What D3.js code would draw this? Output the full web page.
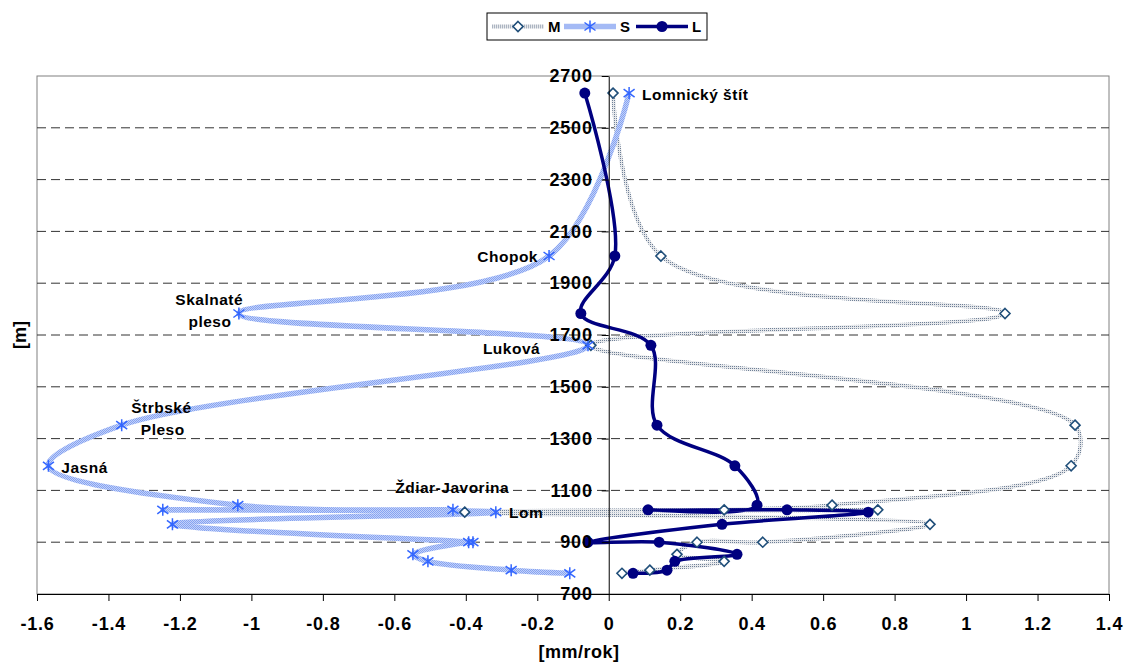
<!DOCTYPE html>
<html>
<head>
<meta charset="utf-8">
<script src="https://cdn.jsdelivr.net/npm/d3@7"></script>
<style>
  body { margin: 0; background: #fff; }
  text { font-family: "Liberation Sans", Arial, sans-serif; font-weight: bold; }
</style>
</head>
<body>
<div id="d3-container"></div>
<script>
/* CONSTANTS AND GLOBALS */
const width = 1125,
  height = 662,
  margin = { top: 76, bottom: 68, left: 37, right: 16 };

// elevation of each station [m] - shared by all three series
const elevations = [2634, 2005, 1783, 1660, 1352, 1195, 1043, 1025, 1025, 1016, 969, 900, 900, 853, 826, 792, 780];

// trend values [mm/rok]
const seriesM = [0.012, 0.146, 1.109, -0.05, 1.305, 1.294, 0.625, 0.323, 0.753, -0.403, 0.899, 0.431, 0.247, 0.191, 0.323, 0.115, 0.037];
const seriesS = [0.057, -0.167, -1.035, -0.058, -1.363, -1.568, -1.038, -0.436, -1.248, -0.316, -1.221, -0.38, -0.392, -0.548, -0.506, -0.273, -0.109];
const seriesL = [-0.067, 0.017, -0.078, 0.118, 0.135, 0.353, 0.415, 0.110, 0.499, 0.726, 0.317, -0.058, 0.141, 0.359, 0.185, 0.163, 0.068];

const seriesNames = ["M", "S", "L"];

const xTicks = d3.range(-1.6, 1.41, 0.2).map(d => Math.round(d * 10) / 10);
const yTicks = d3.range(700, 2701, 200);

// station names written next to the points (placed in data units)
const labels = [
  { text: "Lomnický štít", x: 0.093, elev: 2630, anchor: "start" },
  { text: "Chopok", x: -0.198, elev: 2003, anchor: "end" },
  { text: "Skalnaté", x: -1.118, elev: 1835, anchor: "middle" },
  { text: "pleso", x: -1.116, elev: 1750, anchor: "middle" },
  { text: "Luková", x: -0.272, elev: 1646, anchor: "middle" },
  { text: "Štrbské", x: -1.252, elev: 1418, anchor: "middle" },
  { text: "Pleso", x: -1.248, elev: 1333, anchor: "middle" },
  { text: "Jasná", x: -1.532, elev: 1190, anchor: "start" },
  { text: "Ždiar-Javorina", x: -0.279, elev: 1112, anchor: "end" },
  { text: "Lom", x: -0.279, elev: 1016, anchor: "start" }
];

let svg;
let xScale;
let yScale;

const asteriskPath = "M0,-6V6M-5.5,-4L5.5,4M-5.5,4L5.5,-4";
const diamondPath = "M0,-5L5,0L0,5L-5,0Z";

init();

function init() {
  xScale = d3.scaleLinear()
    .domain([-1.6, 1.4])
    .range([margin.left, width - margin.right]);

  yScale = d3.scaleLinear()
    .domain([700, 2700])
    .range([height - margin.bottom, margin.top]);

  svg = d3.select("#d3-container")
    .append("svg")
    .attr("width", width)
    .attr("height", height);

  // textured strokes (Excel style fills)
  const defs = svg.append("defs");
  const pm = defs.append("pattern")
    .attr("id", "dotsM")
    .attr("patternUnits", "userSpaceOnUse")
    .attr("width", 2).attr("height", 2);
  pm.append("rect").attr("width", 2).attr("height", 2).attr("fill", "#e6e8eb");
  pm.append("rect").attr("width", 1).attr("height", 1).attr("fill", "#6f8097");

  const ps = defs.append("pattern")
    .attr("id", "dotsS")
    .attr("patternUnits", "userSpaceOnUse")
    .attr("width", 2).attr("height", 2);
  ps.append("rect").attr("width", 2).attr("height", 2).attr("fill", "#c2d1fa");
  ps.append("rect").attr("width", 1).attr("height", 1).attr("fill", "#86a3f0");
  ps.append("rect").attr("x", 1).attr("y", 1).attr("width", 1).attr("height", 1).attr("fill", "#86a3f0");

  // plot area frame
  svg.append("rect")
    .attr("x", xScale(-1.6))
    .attr("y", yScale(2700))
    .attr("width", xScale(1.4) - xScale(-1.6))
    .attr("height", yScale(700) - yScale(2700))
    .attr("fill", "none")
    .attr("stroke", "#808080");

  // dashed gridlines
  svg.append("g")
    .selectAll("line")
    .data(yTicks.filter(d => d > 700 && d < 2700))
    .join("line")
    .attr("x1", xScale(-1.6))
    .attr("x2", xScale(1.4))
    .attr("y1", d => yScale(d))
    .attr("y2", d => yScale(d))
    .attr("stroke", "#333")
    .attr("stroke-dasharray", "9,5");

  draw();
  drawAxes();
  drawLegend();
}

function draw() {
  const rows = elevations.map((e, i) => ({ elev: e, M: seriesM[i], S: seriesS[i], L: seriesL[i] }));

  // smoothed lines, centripetal keeps the overshoot small like Excel
  const line = key => d3.line()
    .x(d => xScale(d[key]))
    .y(d => yScale(d.elev))
    .curve(d3.curveCatmullRom.alpha(0.5));

  svg.append("path")
    .datum(rows)
    .attr("d", line("M"))
    .attr("fill", "none")
    .attr("stroke", "url(#dotsM)")
    .attr("stroke-width", 4);

  svg.append("path")
    .datum(rows)
    .attr("d", line("S"))
    .attr("fill", "none")
    .attr("stroke", "url(#dotsS)")
    .attr("stroke-width", 5.5);

  svg.append("path")
    .datum(rows)
    .attr("d", line("L"))
    .attr("fill", "none")
    .attr("stroke", "#000080")
    .attr("stroke-width", 3.5)
    .attr("stroke-linejoin", "round");

  // markers
  svg.append("g")
    .selectAll("path")
    .data(rows)
    .join("path")
    .attr("d", diamondPath)
    .attr("transform", d => `translate(${xScale(d.M)},${yScale(d.elev)})`)
    .attr("fill", "#fff")
    .attr("stroke", "#1f4e79")
    .attr("stroke-width", 1.6);

  svg.append("g")
    .selectAll("path")
    .data(rows)
    .join("path")
    .attr("d", asteriskPath)
    .attr("transform", d => `translate(${xScale(d.S)},${yScale(d.elev)})`)
    .attr("fill", "none")
    .attr("stroke", "#3366ff")
    .attr("stroke-width", 1.5);

  svg.append("g")
    .selectAll("circle")
    .data(rows)
    .join("circle")
    .attr("cx", d => xScale(d.L))
    .attr("cy", d => yScale(d.elev))
    .attr("r", 5.5)
    .attr("fill", "#000080");

  // station labels
  svg.append("g")
    .selectAll("text")
    .data(labels)
    .join("text")
    .attr("x", d => xScale(d.x))
    .attr("y", d => yScale(d.elev))
    .attr("dy", "0.35em")
    .attr("text-anchor", d => d.anchor)
    .style("font-size", "15.5px")
    .style("letter-spacing", "0.5px")
    .text(d => d.text);
}

function drawAxes() {
  const xAxis = d3.axisBottom(xScale)
    .tickValues(xTicks)
    .tickSizeInner(7)
    .tickSizeOuter(0)
    .tickPadding(16)
    .tickFormat(d => String(d));

  const yAxis = d3.axisLeft(yScale)
    .tickValues(yTicks)
    .tickSizeInner(7)
    .tickSizeOuter(0)
    .tickPadding(9)
    .tickFormat(d => String(d));

  const gx = svg.append("g")
    .attr("transform", `translate(0,${yScale(700)})`)
    .call(xAxis);

  const gy = svg.append("g")
    .attr("transform", `translate(${xScale(0)},0)`)
    .call(yAxis);

  [gx, gy].forEach(g => {
    g.selectAll("text")
      .attr("fill", "#000")
      .style("font-size", "18px")
      .style("letter-spacing", "0.8px");
    g.selectAll("line").attr("stroke", "#000");
    g.select(".domain").attr("stroke", "#000");
  });

  svg.append("text")
    .attr("x", 579)
    .attr("y", 658)
    .attr("text-anchor", "middle")
    .style("font-size", "18px")
    .style("letter-spacing", "0.5px")
    .text("[mm/rok]");

  svg.append("text")
    .attr("transform", `translate(26,${(yScale(700) + yScale(2700)) / 2}) rotate(-90)`)
    .attr("text-anchor", "middle")
    .style("font-size", "18px")
    .text("[m]");
}

function drawLegend() {
  const legend = svg.append("g").attr("transform", "translate(487,13)");

  legend.append("rect")
    .attr("width", 220)
    .attr("height", 27)
    .attr("fill", "#fff")
    .attr("stroke", "#000");

  const items = legend.selectAll("g")
    .data(seriesNames)
    .join("g")
    .attr("transform", (d, i) => `translate(${5 + i * 72},13.5)`);

  items.append("line")
    .attr("x1", 0).attr("x2", 52)
    .attr("stroke", d => d === "M" ? "url(#dotsM)" : d === "S" ? "url(#dotsS)" : "#000080")
    .attr("stroke-width", d => d === "M" ? 4 : d === "S" ? 5.5 : 3.5);

  items.filter(d => d === "M").append("path")
    .attr("d", diamondPath)
    .attr("transform", "translate(26,0)")
    .attr("fill", "#fff")
    .attr("stroke", "#1f4e79")
    .attr("stroke-width", 1.6);

  items.filter(d => d === "S").append("path")
    .attr("d", asteriskPath)
    .attr("transform", "translate(26,0)")
    .attr("fill", "none")
    .attr("stroke", "#3366ff")
    .attr("stroke-width", 1.5);

  items.filter(d => d === "L").append("circle")
    .attr("cx", 26)
    .attr("r", 5.5)
    .attr("fill", "#000080");

  items.append("text")
    .attr("x", 56)
    .attr("dy", "0.36em")
    .style("font-size", "15px")
    .text(d => d);
}
</script>
</body>
</html>
